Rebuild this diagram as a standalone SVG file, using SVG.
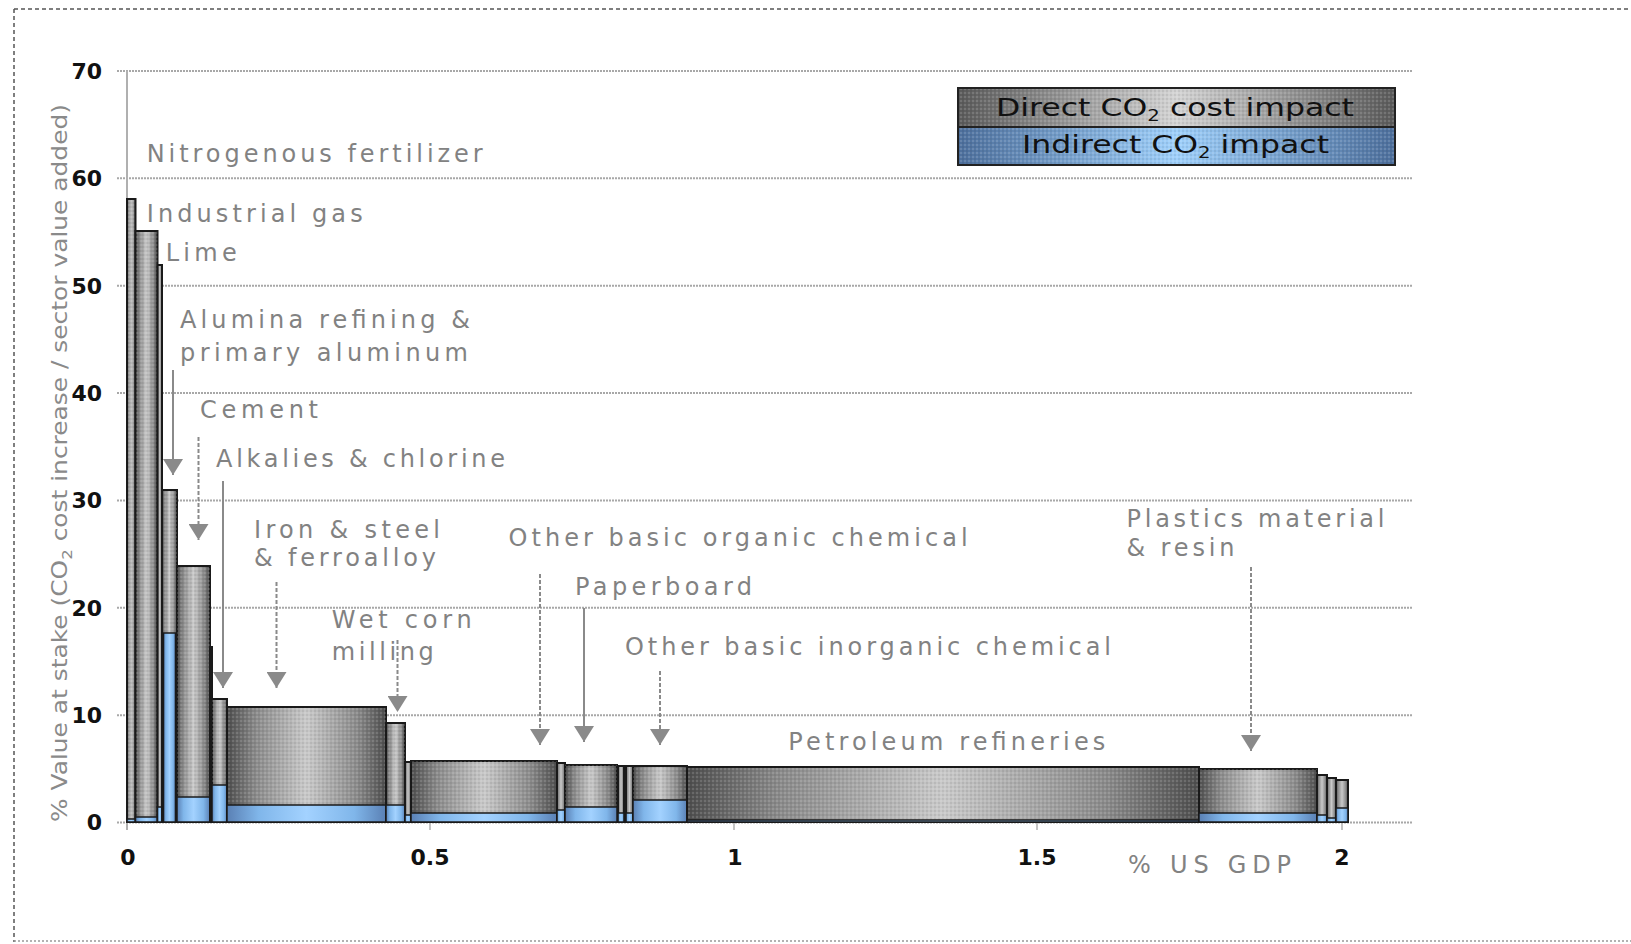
<svg xmlns="http://www.w3.org/2000/svg" width="1631" height="944" viewBox="0 0 1631 944">
<style>
.grid{stroke:#a8a8a8;stroke-width:2;stroke-dasharray:2 1;fill:none}
.lbl{font-family:"DejaVu Sans",Verdana,sans-serif;font-size:24px;fill:#828282}
.tick{font-family:"DejaVu Sans",Verdana,sans-serif;font-size:22px;font-weight:bold;fill:#111}
.leg{font-family:"DejaVu Sans",Verdana,sans-serif;font-size:24px;fill:#111}
.d{fill:url(#gg);stroke:#1a1a1a;stroke-width:2}
.t{fill:url(#tex);stroke:none}
.i{fill:url(#bg);stroke:#1a1a1a;stroke-width:1.5}
.arr{stroke:#8a8a8a;stroke-width:2;fill:none;marker-end:url(#ah)}
.dash{stroke-dasharray:4 2}
</style>
<defs>
<linearGradient id="gg" x1="0" y1="0" x2="1" y2="0">
<stop offset="0" stop-color="#4e4e4e"/>
<stop offset="0.18" stop-color="#8a8a8a"/>
<stop offset="0.5" stop-color="#c9c9c9"/>
<stop offset="0.82" stop-color="#8a8a8a"/>
<stop offset="1" stop-color="#4e4e4e"/>
</linearGradient>
<linearGradient id="bg" x1="0" y1="0" x2="1" y2="0">
<stop offset="0" stop-color="#5a80b4"/>
<stop offset="0.2" stop-color="#80b6ea"/>
<stop offset="0.5" stop-color="#a3d2ff"/>
<stop offset="0.8" stop-color="#80b6ea"/>
<stop offset="1" stop-color="#5a80b4"/>
</linearGradient>
<linearGradient id="lg" x1="0" y1="0" x2="1" y2="0">
<stop offset="0" stop-color="#5a5a5a"/>
<stop offset="0.5" stop-color="#d4d4d4"/>
<stop offset="1" stop-color="#5a5a5a"/>
</linearGradient>
<linearGradient id="lb" x1="0" y1="0" x2="1" y2="0">
<stop offset="0" stop-color="#4d6f9c"/>
<stop offset="0.5" stop-color="#9fd0fb"/>
<stop offset="1" stop-color="#4d6f9c"/>
</linearGradient>
<pattern id="tex" width="4" height="4" patternUnits="userSpaceOnUse">
<circle cx="1" cy="1" r="0.8" fill="#ffffff" fill-opacity="0.3"/>
<circle cx="3" cy="3" r="0.8" fill="#000000" fill-opacity="0.15"/>
</pattern>
<marker id="ah" viewBox="0 0 16 20" refX="16" refY="10" markerWidth="16" markerHeight="20" markerUnits="userSpaceOnUse" orient="auto">
<path d="M0,0 L16,10 L0,20 z" fill="#8a8a8a"/>
</marker>
</defs>
<rect width="1631" height="944" fill="#ffffff"/>
<g id="frame" fill="none" stroke="#555" stroke-width="1.5" stroke-dasharray="4 3">
<line x1="14" y1="9" x2="1631" y2="9"/>
<line x1="14" y1="9" x2="14" y2="942"/>
<line x1="14" y1="941" x2="1631" y2="941" stroke="#999" stroke-dasharray="2 2"/>
</g>
<g id="gridlines">
<line class="grid" x1="117" y1="71" x2="1412" y2="71"/>
<line class="grid" x1="117" y1="178.3" x2="1412" y2="178.3"/>
<line class="grid" x1="117" y1="285.7" x2="1412" y2="285.7"/>
<line class="grid" x1="117" y1="393" x2="1412" y2="393"/>
<line class="grid" x1="117" y1="500.4" x2="1412" y2="500.4"/>
<line class="grid" x1="117" y1="607.8" x2="1412" y2="607.8"/>
<line class="grid" x1="117" y1="715.2" x2="1412" y2="715.2"/>
<line class="grid" x1="117" y1="822.6" x2="1412" y2="822.6"/>
<line x1="127" y1="71" x2="127" y2="830" stroke="#b0b0b0" stroke-width="2"/>
<g stroke="#b0b0b0" stroke-width="1.5">
<line x1="430" y1="822" x2="430" y2="830"/>
<line x1="734" y1="822" x2="734" y2="830"/>
<line x1="1037" y1="822" x2="1037" y2="830"/>
<line x1="1342" y1="822" x2="1342" y2="830"/>
</g>
</g>
<g id="y-ticks" class="tick" text-anchor="end">
<text x="102" y="79">70</text>
<text x="102" y="186">60</text>
<text x="102" y="294">50</text>
<text x="102" y="401">40</text>
<text x="102" y="508">30</text>
<text x="102" y="616">20</text>
<text x="102" y="723">10</text>
<text x="102" y="830">0</text>
</g>
<g id="x-ticks" class="tick" text-anchor="middle">
<text x="128" y="865">0</text>
<text x="430" y="865">0.5</text>
<text x="735" y="865">1</text>
<text x="1037" y="865">1.5</text>
<text x="1342" y="865">2</text>
</g>
<text id="y-title" transform="translate(67,822) rotate(-90)" font-family="'DejaVu Sans',Verdana,sans-serif" font-size="21" fill="#8a8a8a" textLength="718" lengthAdjust="spacingAndGlyphs">% Value at stake (CO<tspan font-size="14" dy="5">2</tspan><tspan dy="-5"> cost increase / sector value added)</tspan></text>
<text id="x-title" class="lbl" x="1128" y="873" textLength="163" lengthAdjust="spacing">% US GDP</text>
<g id="bars">
<g id="bar-nitrogenous-fertilizer"><rect class="d" x="127" y="199" width="8.5" height="623"/><rect class="t" x="127" y="199" width="8.5" height="623"/><rect class="i" x="127" y="819" width="8.5" height="3"/></g>
<g id="bar-industrial-gas"><rect class="d" x="135.5" y="231" width="22" height="591"/><rect class="t" x="135.5" y="231" width="22" height="591"/><rect class="i" x="135.5" y="817" width="22" height="5"/></g>
<g id="bar-lime"><rect class="d" x="157.5" y="265" width="4.5" height="557"/><rect class="i" x="157.5" y="807" width="4.5" height="15"/></g>
<g id="bar-alumina"><rect class="d" x="162" y="490" width="15" height="332"/><rect class="t" x="162" y="490" width="15" height="332"/><rect class="i" x="163.5" y="633" width="12" height="189"/></g>
<g id="bar-cement"><rect class="d" x="177" y="566" width="33" height="256"/><rect class="t" x="177" y="566" width="33" height="256"/><rect class="i" x="177" y="797" width="33" height="25"/></g>
<g id="bar-thin-1"><rect class="d" x="210" y="647" width="2" height="175"/></g>
<g id="bar-alkalies"><rect class="d" x="212" y="699" width="15" height="123"/><rect class="t" x="212" y="699" width="15" height="123"/><rect class="i" x="212" y="785" width="15" height="37"/></g>
<g id="bar-iron-steel"><rect class="d" x="227" y="707" width="159" height="115"/><rect class="t" x="227" y="707" width="159" height="115"/><rect class="i" x="227" y="805" width="159" height="17"/></g>
<g id="bar-wet-corn"><rect class="d" x="386" y="723" width="19" height="99"/><rect class="t" x="386" y="723" width="19" height="99"/><rect class="i" x="386" y="805" width="19" height="17"/></g>
<g id="bar-thin-2"><rect class="d" x="405" y="762" width="6" height="60"/><rect class="i" x="405" y="815" width="6" height="7"/></g>
<g id="bar-other-organic"><rect class="d" x="411" y="761" width="146" height="61"/><rect class="t" x="411" y="761" width="146" height="61"/><rect class="i" x="411" y="813" width="146" height="9"/></g>
<g id="bar-thin-3"><rect class="d" x="557" y="763" width="8" height="59"/><rect class="i" x="557" y="810" width="8" height="12"/></g>
<g id="bar-paperboard"><rect class="d" x="565" y="765" width="52" height="57"/><rect class="t" x="565" y="765" width="52" height="57"/><rect class="i" x="565" y="807" width="52" height="15"/></g>
<g id="bar-thin-4"><rect class="d" x="618" y="766" width="6" height="56"/><rect class="i" x="618" y="813" width="6" height="9"/></g>
<g id="bar-thin-5"><rect class="d" x="626" y="766" width="7" height="56"/><rect class="i" x="626" y="813" width="7" height="9"/></g>
<g id="bar-other-inorganic"><rect class="d" x="633" y="766" width="54" height="56"/><rect class="t" x="633" y="766" width="54" height="56"/><rect class="i" x="633" y="800" width="54" height="22"/></g>
<g id="bar-petroleum"><rect class="d" x="687" y="767" width="512" height="55"/><rect class="t" x="687" y="767" width="512" height="55"/><rect class="i" x="687" y="820" width="512" height="2"/></g>
<g id="bar-plastics"><rect class="d" x="1199" y="769" width="118" height="53"/><rect class="t" x="1199" y="769" width="118" height="53"/><rect class="i" x="1199" y="813" width="118" height="9"/></g>
<g id="bar-small-1"><rect class="d" x="1317" y="775" width="10" height="47"/><rect class="i" x="1317" y="815" width="10" height="7"/></g>
<g id="bar-small-2"><rect class="d" x="1327" y="778" width="9" height="44"/><rect class="i" x="1327" y="818" width="9" height="4"/></g>
<g id="bar-small-3"><rect class="d" x="1336" y="780" width="12" height="42"/><rect class="i" x="1336" y="808" width="12" height="14"/></g>
</g>
<g id="labels" class="lbl">
<text x="146.7" y="162" textLength="336" lengthAdjust="spacing">Nitrogenous fertilizer</text>
<text x="146.7" y="221.7" textLength="216" lengthAdjust="spacing">Industrial gas</text>
<text x="165.7" y="260.7" textLength="71" lengthAdjust="spacing">Lime</text>
<text x="180" y="328" textLength="290" lengthAdjust="spacing">Alumina refining &amp;</text>
<text x="180" y="360.7" textLength="288" lengthAdjust="spacing">primary aluminum</text>
<text x="200" y="418" textLength="118" lengthAdjust="spacing">Cement</text>
<text x="216" y="466.7" textLength="289" lengthAdjust="spacing">Alkalies &amp; chlorine</text>
<text x="254" y="538.3" textLength="186" lengthAdjust="spacing">Iron &amp; steel</text>
<text x="254" y="566" textLength="182" lengthAdjust="spacing">&amp; ferroalloy</text>
<text x="331.7" y="628" textLength="140" lengthAdjust="spacing">Wet corn</text>
<text x="331.7" y="660" textLength="102" lengthAdjust="spacing">milling</text>
<text x="508.6" y="546" textLength="459" lengthAdjust="spacing">Other basic organic chemical</text>
<text x="575" y="595" textLength="177" lengthAdjust="spacing">Paperboard</text>
<text x="625" y="655" textLength="486" lengthAdjust="spacing">Other basic inorganic chemical</text>
<text x="788.3" y="750" textLength="317" lengthAdjust="spacing">Petroleum refineries</text>
<text x="1126.5" y="527" textLength="258" lengthAdjust="spacing">Plastics material</text>
<text x="1126.5" y="555.5" textLength="108" lengthAdjust="spacing">&amp; resin</text>
</g>
<g id="connectors">
<line class="arr" x1="173" y1="370" x2="173" y2="475"/>
<line class="arr dash" x1="198.5" y1="437" x2="198.5" y2="540"/>
<line class="arr" x1="223" y1="481" x2="223" y2="688"/>
<line class="arr dash" x1="276.5" y1="582" x2="276.5" y2="688"/>
<line class="arr dash" x1="397.5" y1="640" x2="397.5" y2="712"/>
<line class="arr dash" x1="540" y1="574" x2="540" y2="745"/>
<line class="arr" x1="584" y1="608" x2="584" y2="742"/>
<line class="arr dash" x1="660" y1="671" x2="660" y2="745"/>
<line class="arr dash" x1="1251" y1="567" x2="1251" y2="751"/>
</g>
<g id="legend">
<rect x="958" y="88" width="437" height="39" fill="url(#lg)"/>
<rect x="958" y="88" width="437" height="39" fill="url(#tex)"/>
<rect x="958" y="127" width="437" height="38" fill="url(#lb)"/>
<rect x="958" y="127" width="437" height="38" fill="url(#tex)"/>
<line x1="958" y1="127" x2="1395" y2="127" stroke="#222" stroke-width="2"/>
<rect x="958" y="88" width="437" height="77" fill="none" stroke="#222" stroke-width="2"/>
<text class="leg" x="996" y="116" textLength="358" lengthAdjust="spacingAndGlyphs">Direct CO<tspan font-size="15" dy="5">2</tspan><tspan dy="-5"> cost impact</tspan></text>
<text class="leg" x="1022" y="153" textLength="307" lengthAdjust="spacingAndGlyphs">Indirect CO<tspan font-size="15" dy="5">2</tspan><tspan dy="-5"> impact</tspan></text>
</g>
</svg>
